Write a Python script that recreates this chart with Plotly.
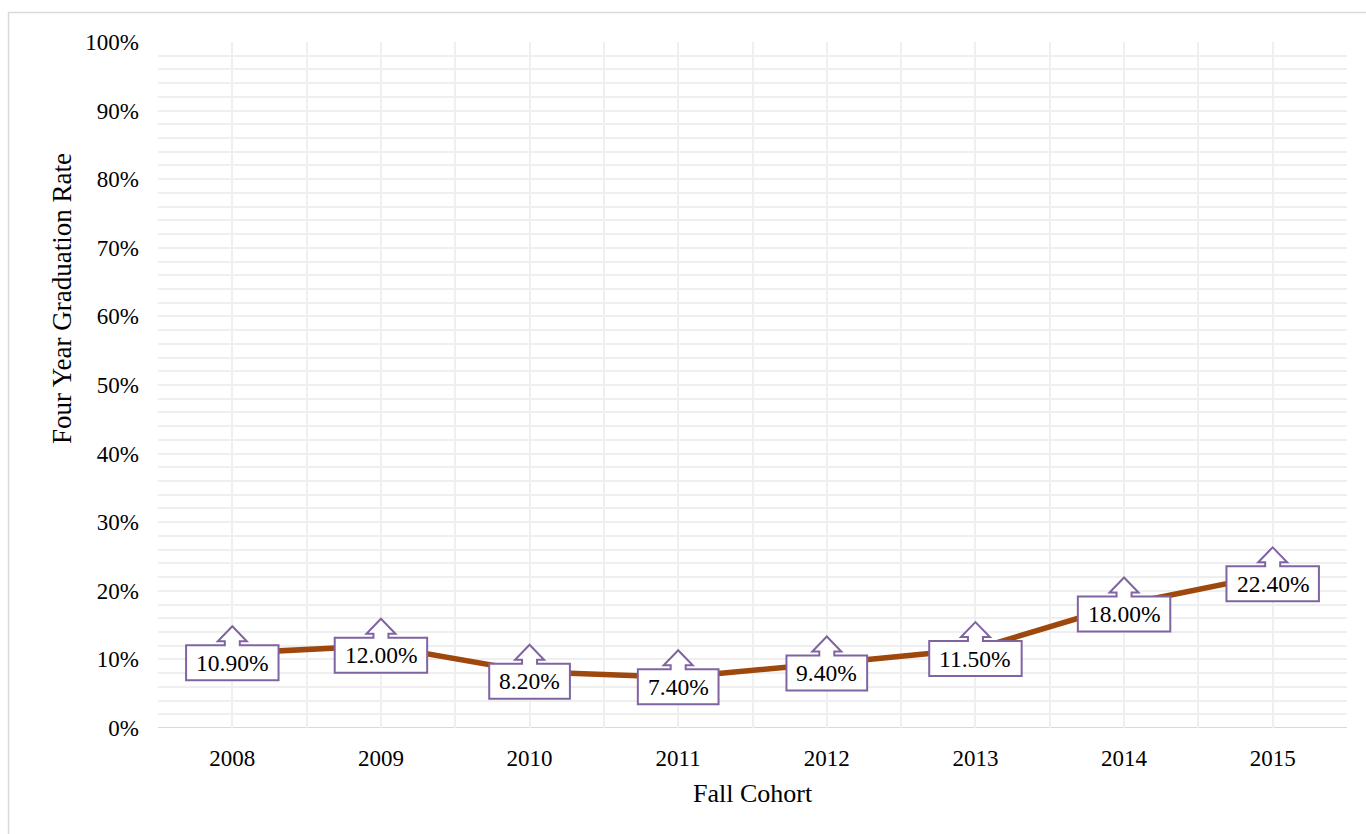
import plotly.graph_objects as go

# Four-year graduation rate by fall cohort
cohorts = [2008, 2009, 2010, 2011, 2012, 2013, 2014, 2015]
grad_rate = [10.9, 12.0, 8.2, 7.4, 9.4, 11.5, 18.0, 22.4]
y_ticks = list(range(0, 101, 10))
y_tick_text = [f"{t}%" for t in y_ticks]

W, H = 1366, 834
L, R, T, B = 158, 19, 42, 106
PW, PH = W - L - R, H - T - B

FONT = "Liberation Serif, Times New Roman, serif"
LINE = "#9E480E"
CALLOUT = "#8064A2"
GRID = "#EFEFEF"
LABEL_SIZE = 23.5

# Approximate advance widths (em) for the serif face, used to size callout boxes
CHAR_EM = {".": 0.25, "%": 0.833}


def text_width(s, size):
    return sum(CHAR_EM.get(c, 0.5) for c in s) * size


def px_x(px):
    return (px - L) / PW


def px_y(py):
    return (H - B - py) / PH


fig = go.Figure()
fig.add_trace(go.Scatter(
    x=cohorts, y=grad_rate, mode="lines",
    line=dict(color=LINE, width=5.5),
    hoverinfo="skip", showlegend=False,
))

shapes = []
annotations = []
for yr, v in zip(cohorts, grad_rate):
    label = f"{v:.2f}%"
    hw = (text_width(label, LABEL_SIZE) + 20) / 2
    # up-arrow callout outline, in pixels relative to the data point (y up)
    pts = [(-hw, -27), (-hw, 8), (-7.5, 8), (-7.5, 12), (-14.5, 12), (0, 27),
           (14.5, 12), (7.5, 12), (7.5, 8), (hw, 8), (hw, -27)]
    path = "M " + " L ".join(f"{x},{y}" for x, y in pts) + " Z"
    shapes.append(dict(
        type="path", xref="x", yref="y",
        xsizemode="pixel", ysizemode="pixel", xanchor=yr, yanchor=v,
        path=path, fillcolor="white", line=dict(color=CALLOUT, width=2),
        layer="above",
    ))
    annotations.append(dict(
        x=yr, y=v, xref="x", yref="y", text=label, showarrow=False,
        yshift=-9.5, xanchor="center", yanchor="middle",
        font=dict(family=FONT, size=LABEL_SIZE, color="#000"),
    ))

# outer chart border
shapes.append(dict(
    type="rect", xref="paper", yref="paper",
    x0=px_x(8.5), x1=px_x(1380), y0=px_y(850), y1=px_y(12.5),
    line=dict(color="#D9D9D9", width=1.5), fillcolor="rgba(0,0,0,0)", layer="below",
))
# bottom axis line at 0%
shapes.append(dict(
    type="line", xref="paper", yref="y", x0=0, x1=1, y0=0, y1=0,
    line=dict(color="#D9D9D9", width=2), layer="below",
))

annotations.append(dict(
    x=px_x(62), y=px_y(299), xref="paper", yref="paper",
    text="Four Year Graduation Rate", textangle=-90, showarrow=False,
    xanchor="center", yanchor="middle",
    font=dict(family=FONT, size=27, color="#000"),
))
annotations.append(dict(
    x=0.5, y=px_y(794), xref="paper", yref="paper",
    text="Fall Cohort", showarrow=False, xanchor="center", yanchor="middle",
    font=dict(family=FONT, size=26, color="#000"),
))

fig.update_layout(
    width=W, height=H,
    margin=dict(l=L, r=R, t=T, b=B),
    paper_bgcolor="white", plot_bgcolor="white",
    font=dict(family=FONT, color="#000"),
    shapes=shapes, annotations=annotations,
    xaxis=dict(
        range=[cohorts[0] - 0.5, cohorts[-1] + 0.5],
        tickvals=cohorts, ticktext=[str(c) for c in cohorts],
        showgrid=True, gridcolor=GRID, gridwidth=2,
        minor=dict(dtick=0.5, tick0=cohorts[0] - 0.5, showgrid=True,
                   gridcolor=GRID, gridwidth=2),
        zeroline=False, showline=False, ticks="",
        ticklabelstandoff=14,
        tickfont=dict(family=FONT, size=23, color="#000"),
        fixedrange=True,
    ),
    yaxis=dict(
        range=[0, 100], tickvals=y_ticks, ticktext=y_tick_text,
        showgrid=True, gridcolor=GRID, gridwidth=2,
        minor=dict(dtick=2, showgrid=True, gridcolor=GRID, gridwidth=2),
        zeroline=False, showline=False, ticks="",
        ticklabelstandoff=18,
        tickfont=dict(family=FONT, size=23, color="#000"),
        fixedrange=True,
    ),
)

fig.write_html("out.html", config={"displayModeBar": False})
